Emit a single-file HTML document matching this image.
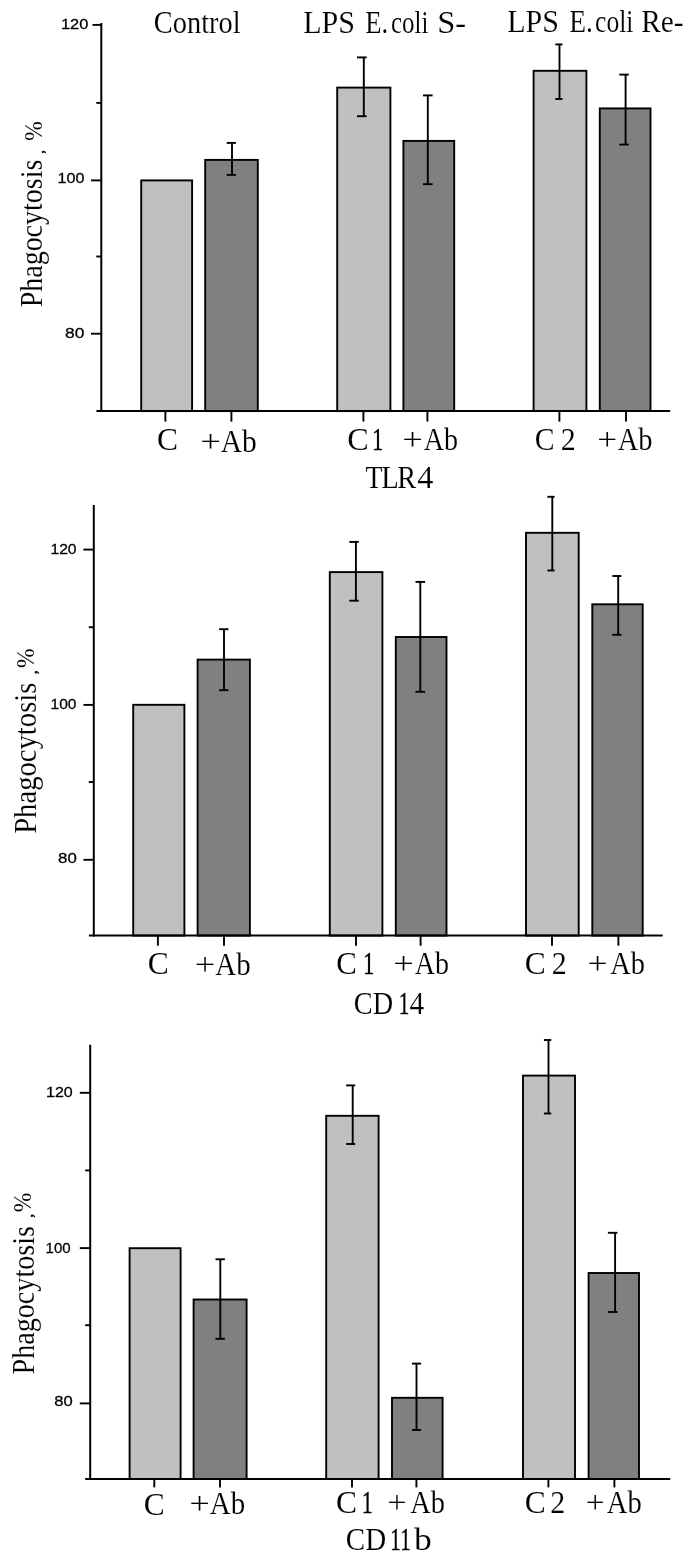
<!DOCTYPE html>
<html><head><meta charset="utf-8"><title>chart</title>
<style>
html,body{margin:0;padding:0;background:#fff;}
body{width:685px;height:1559px;overflow:hidden;font-family:"Liberation Serif",serif;}
svg{display:block;will-change:transform;filter:blur(0.4px);}
text{fill:#000;}
.sf{font-family:"Liberation Serif",serif;stroke:#fff;stroke-width:0.12px;}
.sn{font-family:"Liberation Serif",serif;stroke:#000;stroke-width:0.7px;}
.s1{font-family:"Liberation Serif",serif;stroke:#000;stroke-width:0.35px;}
.ss{font-family:"Liberation Sans",sans-serif;stroke:#000;stroke-width:0.3px;}
</style></head><body>
<svg width="685" height="1559" viewBox="0 0 685 1559">
<rect x="0" y="0" width="685" height="1559" fill="#fff"/>
<rect x="141.2" y="180.4" width="50.9" height="230.7" fill="#c0c0c0" stroke="#000" stroke-width="1.9"/>
<rect x="205.2" y="159.9" width="52.6" height="251.2" fill="#808080" stroke="#000" stroke-width="1.9"/>
<rect x="337.2" y="87.6" width="53.2" height="323.5" fill="#c0c0c0" stroke="#000" stroke-width="1.9"/>
<rect x="403.4" y="140.9" width="50.8" height="270.1" fill="#808080" stroke="#000" stroke-width="1.9"/>
<rect x="533.6" y="70.8" width="52.8" height="340.2" fill="#c0c0c0" stroke="#000" stroke-width="1.9"/>
<rect x="599.8" y="108.4" width="50.7" height="302.6" fill="#808080" stroke="#000" stroke-width="1.9"/>
<line x1="232.0" y1="142.9" x2="232.0" y2="174.9" stroke="#000" stroke-width="1.9"/>
<line x1="226.7" y1="142.9" x2="235.9" y2="142.9" stroke="#000" stroke-width="1.9"/>
<line x1="226.7" y1="174.9" x2="235.9" y2="174.9" stroke="#000" stroke-width="1.9"/>
<line x1="363.8" y1="57.4" x2="363.8" y2="116.2" stroke="#000" stroke-width="1.9"/>
<line x1="357.0" y1="57.4" x2="366.6" y2="57.4" stroke="#000" stroke-width="1.9"/>
<line x1="357.0" y1="116.2" x2="366.6" y2="116.2" stroke="#000" stroke-width="1.9"/>
<line x1="427.8" y1="95.4" x2="427.8" y2="184.2" stroke="#000" stroke-width="1.9"/>
<line x1="423.0" y1="95.4" x2="432.6" y2="95.4" stroke="#000" stroke-width="1.9"/>
<line x1="423.0" y1="184.2" x2="432.6" y2="184.2" stroke="#000" stroke-width="1.9"/>
<line x1="559.5" y1="44.4" x2="559.5" y2="99.0" stroke="#000" stroke-width="1.9"/>
<line x1="555.3" y1="44.4" x2="562.5" y2="44.4" stroke="#000" stroke-width="1.9"/>
<line x1="555.3" y1="99.0" x2="562.5" y2="99.0" stroke="#000" stroke-width="1.9"/>
<line x1="625.6" y1="74.6" x2="625.6" y2="144.6" stroke="#000" stroke-width="1.9"/>
<line x1="619.3" y1="74.6" x2="628.8" y2="74.6" stroke="#000" stroke-width="1.9"/>
<line x1="619.3" y1="144.6" x2="628.8" y2="144.6" stroke="#000" stroke-width="1.9"/>
<line x1="101.3" y1="23.0" x2="101.3" y2="412.1" stroke="#000" stroke-width="2"/>
<line x1="96.4" y1="411.1" x2="670.2" y2="411.1" stroke="#000" stroke-width="2"/>
<line x1="92.5" y1="24.9" x2="101.3" y2="24.9" stroke="#000" stroke-width="1.9"/>
<text class="ss" x="60.95" y="29.4" font-size="15" textLength="27.39" lengthAdjust="spacingAndGlyphs">120</text>
<line x1="91.0" y1="180.4" x2="101.3" y2="180.4" stroke="#000" stroke-width="1.9"/>
<text class="ss" x="57.47" y="182.9" font-size="15" textLength="26.96" lengthAdjust="spacingAndGlyphs">100</text>
<line x1="91.0" y1="333.7" x2="101.3" y2="333.7" stroke="#000" stroke-width="1.9"/>
<text class="ss" x="65.14" y="338.0" font-size="15" textLength="19.33" lengthAdjust="spacingAndGlyphs">80</text>
<line x1="96.3" y1="102.9" x2="101.3" y2="102.9" stroke="#000" stroke-width="1.9"/>
<line x1="96.3" y1="256.5" x2="101.3" y2="256.5" stroke="#000" stroke-width="1.9"/>
<line x1="165.4" y1="411.1" x2="165.4" y2="421.6" stroke="#000" stroke-width="1.9"/>
<line x1="231.4" y1="411.1" x2="231.4" y2="421.6" stroke="#000" stroke-width="1.9"/>
<line x1="363.4" y1="411.1" x2="363.4" y2="421.6" stroke="#000" stroke-width="1.9"/>
<line x1="427.4" y1="411.1" x2="427.4" y2="421.6" stroke="#000" stroke-width="1.9"/>
<line x1="559.4" y1="411.1" x2="559.4" y2="421.6" stroke="#000" stroke-width="1.9"/>
<line x1="626.0" y1="411.1" x2="626.0" y2="421.6" stroke="#000" stroke-width="1.9"/>
<text class="sf" x="157.11" y="450.2" font-size="31" textLength="21.03" lengthAdjust="spacingAndGlyphs">C</text>
<text class="sf" x="200.18" y="452.0" font-size="31" textLength="20.60" lengthAdjust="spacingAndGlyphs">+</text>
<text class="sf" x="220.71" y="452.0" font-size="31" textLength="36.01" lengthAdjust="spacingAndGlyphs">Ab</text>
<text class="sf" x="347.28" y="450.0" font-size="31" textLength="21.50" lengthAdjust="spacingAndGlyphs">C</text>
<text class="s1" x="372.00" y="450.0" font-size="31" textLength="11.36" lengthAdjust="spacingAndGlyphs">1</text>
<text class="sf" x="402.18" y="450.4" font-size="31" textLength="20.60" lengthAdjust="spacingAndGlyphs">+</text>
<text class="sf" x="423.73" y="450.4" font-size="31" textLength="34.34" lengthAdjust="spacingAndGlyphs">Ab</text>
<text class="sf" x="534.78" y="450.0" font-size="31" textLength="19.86" lengthAdjust="spacingAndGlyphs">C</text>
<text class="sf" x="560.68" y="450.0" font-size="31" textLength="14.97" lengthAdjust="spacingAndGlyphs">2</text>
<text class="sf" x="597.24" y="450.2" font-size="31" textLength="19.88" lengthAdjust="spacingAndGlyphs">+</text>
<text class="sf" x="617.72" y="450.2" font-size="31" textLength="34.76" lengthAdjust="spacingAndGlyphs">Ab</text>
<text class="sf" x="365.50" y="488.0" font-size="31" textLength="16.96" lengthAdjust="spacingAndGlyphs">T</text>
<text class="sf" x="381.17" y="488.0" font-size="31" textLength="17.55" lengthAdjust="spacingAndGlyphs">L</text>
<text class="sf" x="397.19" y="488.0" font-size="31" textLength="18.86" lengthAdjust="spacingAndGlyphs">R</text>
<text class="sf" x="417.37" y="488.0" font-size="31" textLength="16.13" lengthAdjust="spacingAndGlyphs">4</text>
<text class="sf" transform="translate(42.2,306.5) rotate(-90)" x="-0.81" y="0" font-size="31" textLength="147.62" lengthAdjust="spacingAndGlyphs">Phagocytosis</text>
<text class="sn" transform="translate(43.6,153.0) rotate(-90)" x="-0.51" y="0" font-size="14" textLength="3.36" lengthAdjust="spacingAndGlyphs">,</text>
<text class="sf" transform="translate(42.2,139.9) rotate(-90)" x="-0.80" y="0" font-size="25.2" textLength="19.50" lengthAdjust="spacingAndGlyphs">%</text>
<rect x="133.2" y="704.8" width="51.2" height="230.8" fill="#c0c0c0" stroke="#000" stroke-width="1.9"/>
<rect x="197.6" y="659.6" width="52.3" height="276.0" fill="#808080" stroke="#000" stroke-width="1.9"/>
<rect x="329.8" y="572.1" width="52.6" height="363.5" fill="#c0c0c0" stroke="#000" stroke-width="1.9"/>
<rect x="395.8" y="637.0" width="50.7" height="298.6" fill="#808080" stroke="#000" stroke-width="1.9"/>
<rect x="526.0" y="532.8" width="52.7" height="402.8" fill="#c0c0c0" stroke="#000" stroke-width="1.9"/>
<rect x="592.3" y="604.3" width="50.4" height="331.3" fill="#808080" stroke="#000" stroke-width="1.9"/>
<line x1="224.0" y1="629.2" x2="224.0" y2="690.2" stroke="#000" stroke-width="1.9"/>
<line x1="219.2" y1="629.2" x2="228.4" y2="629.2" stroke="#000" stroke-width="1.9"/>
<line x1="219.2" y1="690.2" x2="228.4" y2="690.2" stroke="#000" stroke-width="1.9"/>
<line x1="355.9" y1="541.9" x2="355.9" y2="600.7" stroke="#000" stroke-width="1.9"/>
<line x1="349.3" y1="541.9" x2="358.7" y2="541.9" stroke="#000" stroke-width="1.9"/>
<line x1="349.3" y1="600.7" x2="358.7" y2="600.7" stroke="#000" stroke-width="1.9"/>
<line x1="420.3" y1="581.9" x2="420.3" y2="691.8" stroke="#000" stroke-width="1.9"/>
<line x1="415.5" y1="581.9" x2="425.1" y2="581.9" stroke="#000" stroke-width="1.9"/>
<line x1="415.5" y1="691.8" x2="425.1" y2="691.8" stroke="#000" stroke-width="1.9"/>
<line x1="552.3" y1="496.8" x2="552.3" y2="570.5" stroke="#000" stroke-width="1.9"/>
<line x1="547.4" y1="496.8" x2="554.6" y2="496.8" stroke="#000" stroke-width="1.9"/>
<line x1="547.4" y1="570.5" x2="554.6" y2="570.5" stroke="#000" stroke-width="1.9"/>
<line x1="618.2" y1="576.0" x2="618.2" y2="634.8" stroke="#000" stroke-width="1.9"/>
<line x1="612.3" y1="576.0" x2="621.4" y2="576.0" stroke="#000" stroke-width="1.9"/>
<line x1="612.3" y1="634.8" x2="621.4" y2="634.8" stroke="#000" stroke-width="1.9"/>
<line x1="93.8" y1="504.9" x2="93.8" y2="936.6" stroke="#000" stroke-width="2"/>
<line x1="88.9" y1="935.6" x2="662.7" y2="935.6" stroke="#000" stroke-width="2"/>
<line x1="83.4" y1="549.6" x2="93.8" y2="549.6" stroke="#000" stroke-width="1.9"/>
<text class="ss" x="50.40" y="553.9" font-size="15" textLength="26.21" lengthAdjust="spacingAndGlyphs">120</text>
<line x1="83.4" y1="704.9" x2="93.8" y2="704.9" stroke="#000" stroke-width="1.9"/>
<text class="ss" x="50.62" y="708.7" font-size="15" textLength="25.89" lengthAdjust="spacingAndGlyphs">100</text>
<line x1="83.4" y1="859.8" x2="93.8" y2="859.8" stroke="#000" stroke-width="1.9"/>
<text class="ss" x="58.07" y="863.0" font-size="15" textLength="18.69" lengthAdjust="spacingAndGlyphs">80</text>
<line x1="88.8" y1="627.2" x2="93.8" y2="627.2" stroke="#000" stroke-width="1.9"/>
<line x1="88.8" y1="782.0" x2="93.8" y2="782.0" stroke="#000" stroke-width="1.9"/>
<line x1="157.9" y1="935.6" x2="157.9" y2="945.7" stroke="#000" stroke-width="1.9"/>
<line x1="224.0" y1="935.6" x2="224.0" y2="945.7" stroke="#000" stroke-width="1.9"/>
<line x1="356.0" y1="935.6" x2="356.0" y2="945.7" stroke="#000" stroke-width="1.9"/>
<line x1="420.6" y1="935.6" x2="420.6" y2="945.7" stroke="#000" stroke-width="1.9"/>
<line x1="552.0" y1="935.6" x2="552.0" y2="945.7" stroke="#000" stroke-width="1.9"/>
<line x1="618.4" y1="935.6" x2="618.4" y2="945.7" stroke="#000" stroke-width="1.9"/>
<text class="sf" x="147.71" y="974.2" font-size="31" textLength="21.03" lengthAdjust="spacingAndGlyphs">C</text>
<text class="sf" x="194.78" y="975.0" font-size="31" textLength="20.60" lengthAdjust="spacingAndGlyphs">+</text>
<text class="sf" x="215.32" y="975.0" font-size="31" textLength="35.39" lengthAdjust="spacingAndGlyphs">Ab</text>
<text class="sf" x="336.14" y="974.2" font-size="31" textLength="20.57" lengthAdjust="spacingAndGlyphs">C</text>
<text class="s1" x="363.00" y="974.2" font-size="31" textLength="11.36" lengthAdjust="spacingAndGlyphs">1</text>
<text class="sf" x="393.18" y="974.4" font-size="31" textLength="20.60" lengthAdjust="spacingAndGlyphs">+</text>
<text class="sf" x="414.73" y="974.4" font-size="31" textLength="34.34" lengthAdjust="spacingAndGlyphs">Ab</text>
<text class="sf" x="524.71" y="974.2" font-size="31" textLength="21.03" lengthAdjust="spacingAndGlyphs">C</text>
<text class="sf" x="551.68" y="974.2" font-size="31" textLength="14.97" lengthAdjust="spacingAndGlyphs">2</text>
<text class="sf" x="587.62" y="974.4" font-size="31" textLength="20.12" lengthAdjust="spacingAndGlyphs">+</text>
<text class="sf" x="610.32" y="974.4" font-size="31" textLength="34.76" lengthAdjust="spacingAndGlyphs">Ab</text>
<text class="sf" x="353.84" y="1014.4" font-size="31" textLength="39.29" lengthAdjust="spacingAndGlyphs">CD</text>
<text class="s1" x="398.75" y="1014.4" font-size="31" textLength="10.51" lengthAdjust="spacingAndGlyphs">1</text>
<text class="sf" x="409.43" y="1014.4" font-size="31" textLength="14.63" lengthAdjust="spacingAndGlyphs">4</text>
<text class="sf" transform="translate(36.1,833.0) rotate(-90)" x="-0.83" y="0" font-size="31" textLength="151.26" lengthAdjust="spacingAndGlyphs">Phagocytosis</text>
<text class="sn" transform="translate(36.8,673.4) rotate(-90)" x="-0.54" y="0" font-size="14" textLength="3.53" lengthAdjust="spacingAndGlyphs">,</text>
<text class="sf" transform="translate(34.3,667.2) rotate(-90)" x="-0.80" y="0" font-size="24.8" textLength="19.50" lengthAdjust="spacingAndGlyphs">%</text>
<rect x="129.6" y="1248.2" width="51.0" height="230.8" fill="#c0c0c0" stroke="#000" stroke-width="1.9"/>
<rect x="193.6" y="1299.5" width="53.0" height="179.5" fill="#808080" stroke="#000" stroke-width="1.9"/>
<rect x="326.2" y="1115.8" width="52.4" height="363.2" fill="#c0c0c0" stroke="#000" stroke-width="1.9"/>
<rect x="392.0" y="1397.8" width="50.6" height="81.2" fill="#808080" stroke="#000" stroke-width="1.9"/>
<rect x="523.0" y="1075.6" width="52.0" height="403.4" fill="#c0c0c0" stroke="#000" stroke-width="1.9"/>
<rect x="588.6" y="1273.0" width="50.4" height="206.0" fill="#808080" stroke="#000" stroke-width="1.9"/>
<line x1="220.3" y1="1259.3" x2="220.3" y2="1338.8" stroke="#000" stroke-width="1.9"/>
<line x1="215.5" y1="1259.3" x2="224.9" y2="1259.3" stroke="#000" stroke-width="1.9"/>
<line x1="215.5" y1="1338.8" x2="224.9" y2="1338.8" stroke="#000" stroke-width="1.9"/>
<line x1="352.7" y1="1085.4" x2="352.7" y2="1144.0" stroke="#000" stroke-width="1.9"/>
<line x1="346.1" y1="1085.4" x2="355.2" y2="1085.4" stroke="#000" stroke-width="1.9"/>
<line x1="346.1" y1="1144.0" x2="355.2" y2="1144.0" stroke="#000" stroke-width="1.9"/>
<line x1="416.5" y1="1363.6" x2="416.5" y2="1430.0" stroke="#000" stroke-width="1.9"/>
<line x1="411.9" y1="1363.6" x2="421.1" y2="1363.6" stroke="#000" stroke-width="1.9"/>
<line x1="411.9" y1="1430.0" x2="421.1" y2="1430.0" stroke="#000" stroke-width="1.9"/>
<line x1="548.5" y1="1040.0" x2="548.5" y2="1113.5" stroke="#000" stroke-width="1.9"/>
<line x1="543.9" y1="1040.0" x2="551.3" y2="1040.0" stroke="#000" stroke-width="1.9"/>
<line x1="543.9" y1="1113.5" x2="551.3" y2="1113.5" stroke="#000" stroke-width="1.9"/>
<line x1="615.1" y1="1232.8" x2="615.1" y2="1312.0" stroke="#000" stroke-width="1.9"/>
<line x1="607.9" y1="1232.8" x2="617.4" y2="1232.8" stroke="#000" stroke-width="1.9"/>
<line x1="607.9" y1="1312.0" x2="617.4" y2="1312.0" stroke="#000" stroke-width="1.9"/>
<line x1="90.2" y1="1044.7" x2="90.2" y2="1480.0" stroke="#000" stroke-width="2"/>
<line x1="85.2" y1="1479.0" x2="670.2" y2="1479.0" stroke="#000" stroke-width="2"/>
<line x1="79.8" y1="1092.8" x2="90.2" y2="1092.8" stroke="#000" stroke-width="1.9"/>
<text class="ss" x="45.98" y="1097.0" font-size="15" textLength="26.75" lengthAdjust="spacingAndGlyphs">120</text>
<line x1="79.8" y1="1248.1" x2="90.2" y2="1248.1" stroke="#000" stroke-width="1.9"/>
<text class="ss" x="45.56" y="1252.5" font-size="15" textLength="25.03" lengthAdjust="spacingAndGlyphs">100</text>
<line x1="79.8" y1="1403.4" x2="90.2" y2="1403.4" stroke="#000" stroke-width="1.9"/>
<text class="ss" x="54.28" y="1406.1" font-size="15" textLength="18.47" lengthAdjust="spacingAndGlyphs">80</text>
<line x1="85.2" y1="1170.4" x2="90.2" y2="1170.4" stroke="#000" stroke-width="1.9"/>
<line x1="85.2" y1="1325.2" x2="90.2" y2="1325.2" stroke="#000" stroke-width="1.9"/>
<line x1="154.3" y1="1479.0" x2="154.3" y2="1487.4" stroke="#000" stroke-width="1.9"/>
<line x1="220.0" y1="1479.0" x2="220.0" y2="1487.4" stroke="#000" stroke-width="1.9"/>
<line x1="352.0" y1="1479.0" x2="352.0" y2="1487.4" stroke="#000" stroke-width="1.9"/>
<line x1="416.4" y1="1479.0" x2="416.4" y2="1487.4" stroke="#000" stroke-width="1.9"/>
<line x1="548.4" y1="1479.0" x2="548.4" y2="1487.4" stroke="#000" stroke-width="1.9"/>
<line x1="614.4" y1="1479.0" x2="614.4" y2="1487.4" stroke="#000" stroke-width="1.9"/>
<text class="sf" x="143.71" y="1515.4" font-size="31" textLength="21.03" lengthAdjust="spacingAndGlyphs">C</text>
<text class="sf" x="189.18" y="1514.0" font-size="31" textLength="20.60" lengthAdjust="spacingAndGlyphs">+</text>
<text class="sf" x="209.72" y="1514.0" font-size="31" textLength="35.39" lengthAdjust="spacingAndGlyphs">Ab</text>
<text class="sf" x="336.11" y="1513.4" font-size="31" textLength="21.03" lengthAdjust="spacingAndGlyphs">C</text>
<text class="s1" x="361.65" y="1513.4" font-size="31" textLength="11.08" lengthAdjust="spacingAndGlyphs">1</text>
<text class="sf" x="387.29" y="1513.4" font-size="31" textLength="19.39" lengthAdjust="spacingAndGlyphs">+</text>
<text class="sf" x="410.32" y="1513.4" font-size="31" textLength="34.76" lengthAdjust="spacingAndGlyphs">Ab</text>
<text class="sf" x="524.71" y="1513.4" font-size="31" textLength="21.03" lengthAdjust="spacingAndGlyphs">C</text>
<text class="sf" x="550.28" y="1513.4" font-size="31" textLength="14.97" lengthAdjust="spacingAndGlyphs">2</text>
<text class="sf" x="585.73" y="1513.4" font-size="31" textLength="18.91" lengthAdjust="spacingAndGlyphs">+</text>
<text class="sf" x="606.72" y="1513.4" font-size="31" textLength="34.97" lengthAdjust="spacingAndGlyphs">Ab</text>
<text class="sf" x="345.81" y="1550.0" font-size="31" textLength="40.35" lengthAdjust="spacingAndGlyphs">CD</text>
<text class="s1" x="390.15" y="1550.0" font-size="31" textLength="10.51" lengthAdjust="spacingAndGlyphs">1</text>
<text class="s1" x="400.15" y="1550.0" font-size="31" textLength="10.51" lengthAdjust="spacingAndGlyphs">1</text>
<text class="sf" x="414.00" y="1550.0" font-size="31" textLength="17.75" lengthAdjust="spacingAndGlyphs">b</text>
<text class="sf" transform="translate(34.2,1373.6) rotate(-90)" x="-0.81" y="0" font-size="31" textLength="148.33" lengthAdjust="spacingAndGlyphs">Phagocytosis</text>
<text class="sn" transform="translate(33.2,1216.9) rotate(-90)" x="-0.54" y="0" font-size="14" textLength="3.53" lengthAdjust="spacingAndGlyphs">,</text>
<text class="sf" transform="translate(31.4,1211.5) rotate(-90)" x="-0.80" y="0" font-size="24.8" textLength="19.50" lengthAdjust="spacingAndGlyphs">%</text>
<text class="sf" x="153.84" y="33.4" font-size="31" textLength="86.73" lengthAdjust="spacingAndGlyphs">Control</text>
<text class="sf" x="303.14" y="33.0" font-size="31" textLength="51.73" lengthAdjust="spacingAndGlyphs">LPS</text>
<text class="sf" x="365.23" y="33.0" font-size="31" textLength="22.92" lengthAdjust="spacingAndGlyphs">E.</text>
<text class="sf" x="391.05" y="33.0" font-size="31" textLength="37.43" lengthAdjust="spacingAndGlyphs">coli</text>
<text class="sf" x="437.22" y="33.0" font-size="31" textLength="28.96" lengthAdjust="spacingAndGlyphs">S-</text>
<text class="sf" x="507.14" y="32.0" font-size="31" textLength="51.73" lengthAdjust="spacingAndGlyphs">LPS</text>
<text class="sf" x="569.21" y="32.0" font-size="31" textLength="23.60" lengthAdjust="spacingAndGlyphs">E.</text>
<text class="sf" x="595.02" y="32.0" font-size="31" textLength="38.47" lengthAdjust="spacingAndGlyphs">coli</text>
<text class="sf" x="641.16" y="32.0" font-size="31" textLength="42.30" lengthAdjust="spacingAndGlyphs">Re-</text>
</svg>
</body></html>
